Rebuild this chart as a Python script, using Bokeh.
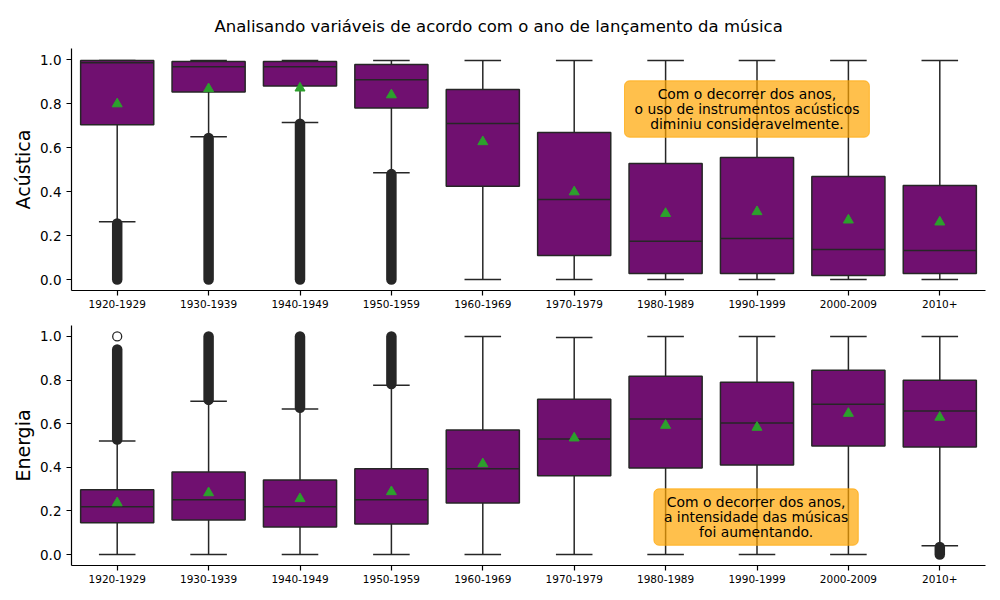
import math
from bokeh.plotting import figure
from bokeh.layouts import column
from bokeh.models import ColumnDataSource, FactorRange, Range1d, FixedTicker, PrintfTickFormatter, Label
from bokeh.transform import dodge
from bokeh.embed import file_html
from bokeh.resources import INLINE

nan = float("nan")

decades = ["1920-1929", "1930-1939", "1940-1949", "1950-1959", "1960-1969",
           "1970-1979", "1980-1989", "1990-1999", "2000-2009", "2010+"]

# Acústica (acousticness)
ac_q1 = [0.703, 0.852, 0.880, 0.779, 0.424, 0.109, 0.027, 0.027, 0.018, 0.027]
ac_med = [0.985, 0.967, 0.967, 0.908, 0.709, 0.364, 0.174, 0.186, 0.136, 0.132]
ac_q3 = [0.995, 0.991, 0.991, 0.977, 0.864, 0.668, 0.527, 0.555, 0.468, 0.427]
ac_mean = [0.798, 0.867, 0.870, 0.839, 0.626, 0.398, 0.300, 0.308, 0.270, 0.261]
ac_wlo = [0.262, 0.649, 0.714, 0.485, 0.0, 0.0, 0.0, 0.0, 0.0, 0.0]
ac_whi = [0.996, 0.996, 0.996, 0.996, 0.996, 0.996, 0.996, 0.996, 0.996, 0.996]
ac_flo = [0.0, 0.0, 0.0, 0.0, nan, nan, nan, nan, nan, nan]
ac_fhi = [0.255, 0.643, 0.708, 0.479, nan, nan, nan, nan, nan, nan]
ac_single_x = []
ac_single_y = []

# Energia (energy)
en_q1 = [0.146, 0.158, 0.126, 0.140, 0.237, 0.361, 0.397, 0.411, 0.498, 0.493]
en_med = [0.219, 0.251, 0.219, 0.251, 0.393, 0.530, 0.621, 0.603, 0.689, 0.658]
en_q3 = [0.297, 0.379, 0.342, 0.393, 0.571, 0.712, 0.817, 0.790, 0.845, 0.799]
en_mean = [0.237, 0.283, 0.256, 0.288, 0.416, 0.534, 0.592, 0.583, 0.647, 0.629]
en_wlo = [0.0, 0.0, 0.0, 0.0, 0.0, 0.0, 0.0, 0.0, 0.0, 0.041]
en_whi = [0.521, 0.703, 0.667, 0.776, 1.0, 0.995, 1.0, 1.0, 1.0, 1.0]
en_flo = [0.527, 0.709, 0.673, 0.782, nan, nan, nan, nan, nan, 0.0]
en_fhi = [0.940, 1.0, 1.0, 1.0, nan, nan, nan, nan, nan, 0.035]
en_single_x = ["1920-1929"]
en_single_y = [1.0]

y_ticks = [0.0, 0.2, 0.4, 0.6, 0.8, 1.0]

title_text = "Analisando variáveis de acordo com o ano de lançamento da música"
note_ac = "Com o decorrer dos anos,\no uso de instrumentos acústicos\ndiminiu consideravelmente."
note_en = "Com o decorrer dos anos,\na intensidade das músicas\nfoi aumentando."

FONT = "DejaVu Sans"
BOX = "#701070"
LINE = "#262626"
MEAN = "#2ca02c"


def make_panel(q1, med, q3, mean, wlo, whi, flo, fhi, sx, sy, ylabel, height,
               btop, bbottom, note, note_x, note_y):
    p = figure(x_range=FactorRange(*decades, range_padding=0),
               y_range=Range1d(-0.05, 1.05),
               width=1000, height=height, output_backend="svg",
               toolbar_location=None, min_border_left=71, min_border_right=15,
               min_border_top=btop, min_border_bottom=bbottom)
    p.outline_line_color = None
    p.xgrid.visible = False
    p.ygrid.visible = False
    p.background_fill_color = "white"

    src = ColumnDataSource(dict(x=decades, q1=q1, med=med, q3=q3, mean=mean,
                                wlo=wlo, whi=whi, flo=flo, fhi=fhi))
    xl = dodge("x", -0.4, range=p.x_range)
    xr = dodge("x", 0.4, range=p.x_range)
    cl = dodge("x", -0.2, range=p.x_range)
    cr = dodge("x", 0.2, range=p.x_range)

    # whiskers
    p.segment(x0="x", y0="q3", x1="x", y1="whi", source=src, line_color=LINE, line_width=1.5)
    p.segment(x0="x", y0="q1", x1="x", y1="wlo", source=src, line_color=LINE, line_width=1.5)
    p.segment(x0=cl, y0="whi", x1=cr, y1="whi", source=src, line_color=LINE, line_width=1.5)
    p.segment(x0=cl, y0="wlo", x1=cr, y1="wlo", source=src, line_color=LINE, line_width=1.5)
    # boxes
    p.vbar(x="x", top="q3", bottom="q1", width=0.8, source=src,
           fill_color=BOX, line_color=LINE, line_width=1.5)
    p.segment(x0=xl, y0="med", x1=xr, y1="med", source=src, line_color=LINE, line_width=1.5)
    # dense fliers
    p.segment(x0="x", y0="flo", x1="x", y1="fhi", source=src, line_color=LINE,
              line_width=10.5, line_cap="round")
    if sx:
        p.scatter(x=sx, y=sy, marker="circle", size=9, fill_color="white",
                  line_color=LINE, line_width=1.3)
    # means
    p.scatter(x="x", y="mean", source=src, marker="triangle", size=10,
              fill_color=MEAN, line_color=MEAN)

    lab = Label(x=note_x, y=note_y, text=note, text_align="center", text_baseline="middle",
                text_font=FONT, text_font_size="13.9px", text_color="black",
                text_line_height=0.95,
                background_fill_color="orange", background_fill_alpha=0.7,
                border_line_color="orange", border_line_alpha=0.7,
                padding=dict(left=10, right=10, top=5, bottom=5), border_radius=5)
    p.add_layout(lab)

    p.yaxis.ticker = FixedTicker(ticks=y_ticks)
    p.yaxis.formatter = PrintfTickFormatter(format="%.1f")
    p.yaxis.axis_label = ylabel
    p.yaxis.axis_label_text_font = FONT
    p.yaxis.axis_label_text_font_size = "19px"
    p.yaxis.axis_label_text_font_style = "normal"
    p.yaxis.axis_label_text_color = "black"
    p.yaxis.axis_label_standoff = 3
    for ax in (p.xaxis[0], p.yaxis[0]):
        ax.major_label_text_font = FONT
        ax.axis_line_color = "black"
        ax.axis_line_width = 1.2
        ax.major_tick_line_color = "black"
        ax.major_tick_line_width = 1.2
        ax.major_tick_out = 5
        ax.major_tick_in = 0
        ax.minor_tick_line_color = None
        ax.major_label_text_color = "black"
    p.yaxis.major_label_text_font_size = "13.5px"
    p.xaxis.major_label_text_font_size = "10.5px"
    p.xaxis.major_label_standoff = 4
    return p


p1 = make_panel(ac_q1, ac_med, ac_q3, ac_mean, ac_wlo, ac_whi, ac_flo, ac_fhi,
                ac_single_x, ac_single_y, "Acústica", 315, 48, 25,
                note_ac, 7.39, 0.775)
p1.title.text = title_text
p1.title.text_font = FONT
p1.title.text_font_size = "16.5px"
p1.title.text_font_style = "normal"
p1.title.text_color = "black"
p1.title.align = "left"
p1.title.offset = 143
p1.title.standoff = 26

p2 = make_panel(en_q1, en_med, en_q3, en_mean, en_wlo, en_whi, en_flo, en_fhi,
                en_single_x, en_single_y, "Energia", 285, 10, 35,
                note_en, 7.49, 0.172)

layout = column(p1, p2, spacing=0)
open("out.html", "w").write(file_html(layout, INLINE))
